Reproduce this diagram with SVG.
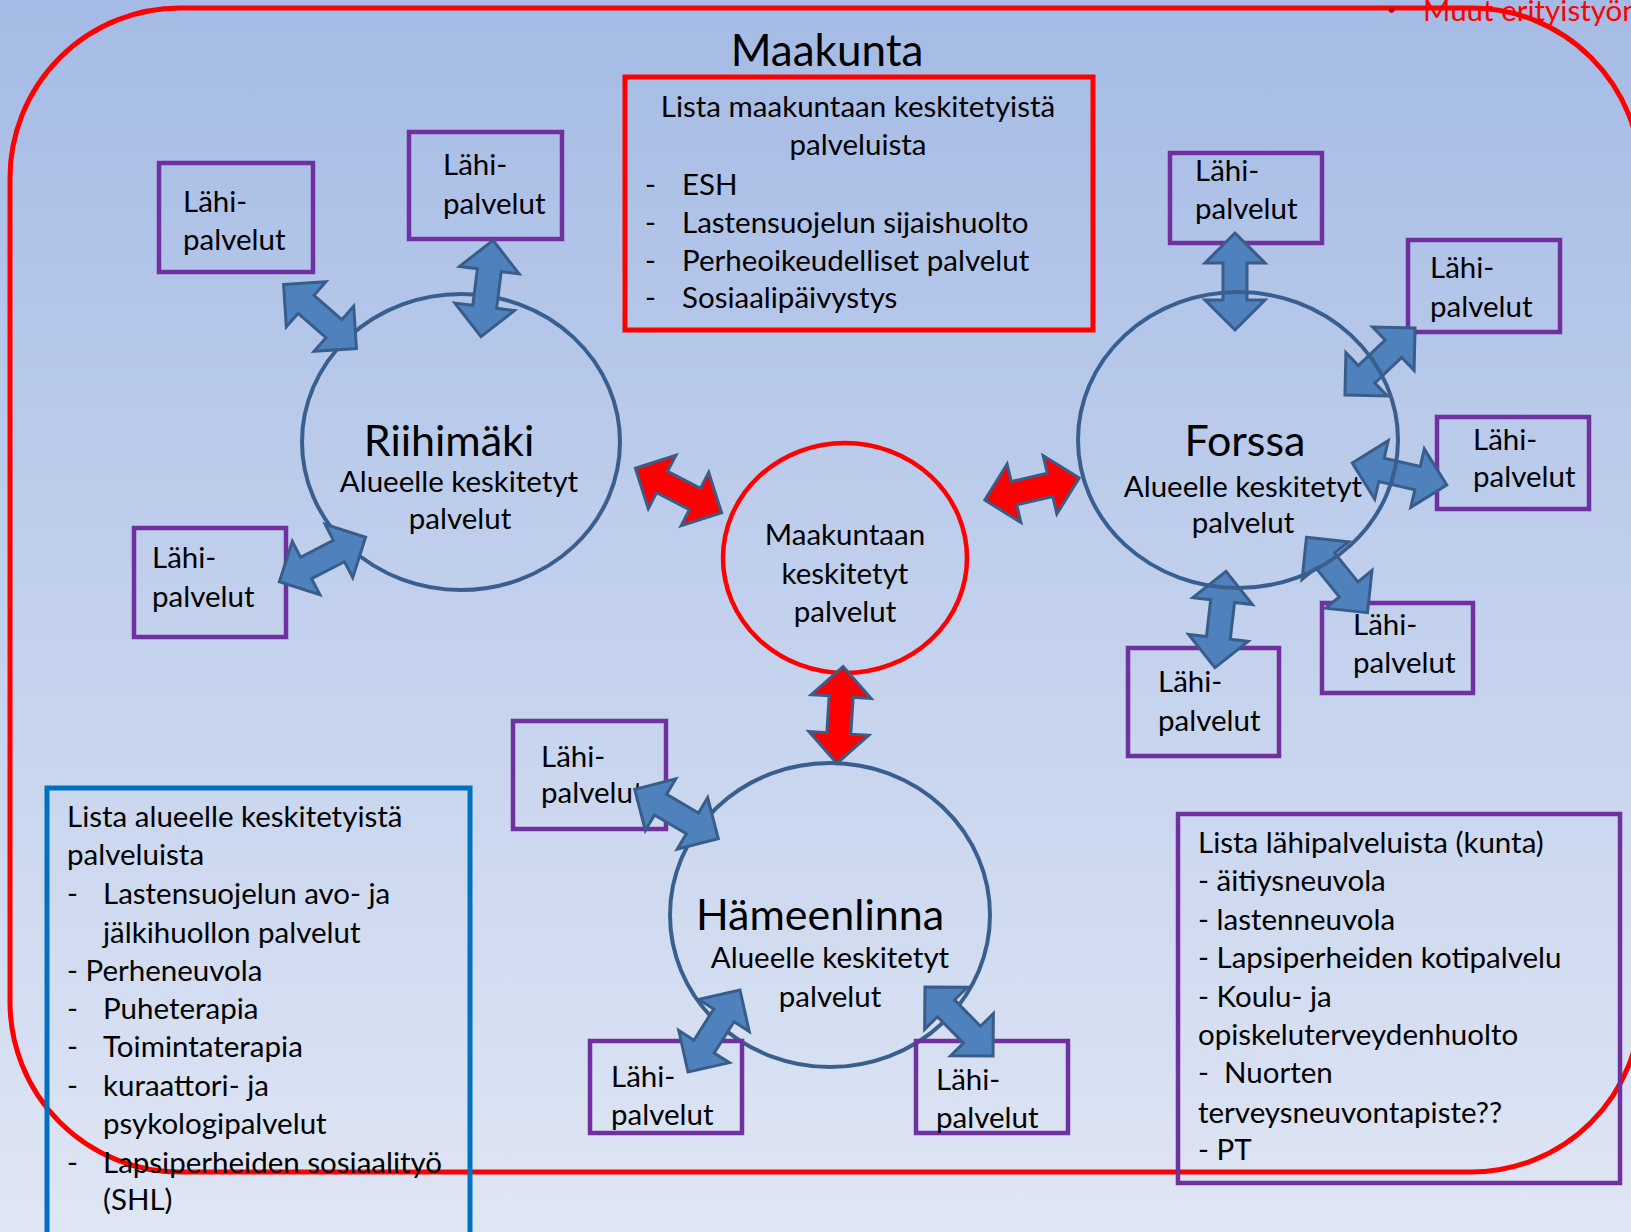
<svg xmlns="http://www.w3.org/2000/svg" width="1631" height="1232" viewBox="0 0 1631 1232">
<defs>
<linearGradient id="bg" x1="0" y1="0" x2="0" y2="1">
<stop offset="0" stop-color="#A5BBE5"/>
<stop offset="1" stop-color="#DFE6F4"/>
</linearGradient>
<path id="dbl" d="M-48.5,0 L-18.5,-30 L-18.5,-12 L18.5,-12 L18.5,-30 L48.5,0 L18.5,30 L18.5,12 L-18.5,12 L-18.5,30 Z"/>
<style>
text{font-family:Lato,"Liberation Sans",sans-serif;fill:#000;font-size:29.5px}
.lahi{fill:none;stroke:#7030A0;stroke-width:4.5}
.circ{fill:none;stroke:#3A5F8F;stroke-width:4}
.title{font-size:43px}
.mid{text-anchor:middle}
.ab{fill:#4F81BD;stroke:#385D8A;stroke-width:3;stroke-linejoin:miter}
.ar{fill:#FF0000;stroke:#385D8A;stroke-width:3;stroke-linejoin:miter}
</style>
</defs>
<rect width="1631" height="1232" fill="url(#bg)"/>
<g id="frame">
<rect x="10" y="8" width="1631" height="1164" rx="170" ry="170" fill="none" stroke="#FF0000" stroke-width="5"/>
<text x="1387" y="15" style="fill:#C00000;font-size:16px">•</text>
<text x="1423" y="21" style="fill:#FF0000">Muut erityistyön</text>
</g>
<g id="title"><text x="827" y="66" class="mid" style="font-size:44px">Maakunta</text></g>

<g id="maakunta-list">
<rect x="625" y="77" width="468" height="253" fill="none" stroke="#FF0000" stroke-width="5"/>
<text x="858" y="117" class="mid">Lista maakuntaan keskitetyistä</text>
<text x="858" y="155" class="mid">palveluista</text>
<text x="645" y="195">-</text><text x="682" y="195">ESH</text>
<text x="645" y="233">-</text><text x="682" y="233">Lastensuojelun sijaishuolto</text>
<text x="645" y="271">-</text><text x="682" y="271">Perheoikeudelliset palvelut</text>
<text x="645" y="308">-</text><text x="682" y="308">Sosiaalipäivystys</text>
</g>

<g id="riihimaki">
<ellipse cx="461" cy="442" rx="159" ry="148" class="circ"/>
<text x="449" y="456" class="mid title">Riihimäki</text>
<text x="459" y="492" class="mid">Alueelle keskitetyt</text>
<text x="460" y="529" class="mid">palvelut</text>
</g>
<g id="maakuntaan">
<ellipse cx="845" cy="558" rx="122" ry="115" fill="none" stroke="#FF0000" stroke-width="4.5"/>
<text x="845" y="545" class="mid">Maakuntaan</text>
<text x="845" y="584" class="mid">keskitetyt</text>
<text x="845" y="622" class="mid">palvelut</text>
</g>
<g id="hameenlinna">
<ellipse cx="830" cy="915" rx="160" ry="152" class="circ"/>
<text x="820" y="930" class="mid title">Hämeenlinna</text>
<text x="830" y="968" class="mid">Alueelle keskitetyt</text>
<text x="830" y="1007" class="mid">palvelut</text>
</g>

<g id="lahi-a"><rect x="159" y="163" width="154" height="109" class="lahi"/><text x="183" y="212">Lähi-</text><text x="183" y="250">palvelut</text></g>
<g id="lahi-b"><rect x="409" y="132" width="153" height="107" class="lahi"/><text x="443" y="175">Lähi-</text><text x="443" y="214">palvelut</text></g>
<g id="lahi-c"><rect x="134" y="528" width="152" height="109" class="lahi"/><text x="152" y="568">Lähi-</text><text x="152" y="607">palvelut</text></g>
<g id="lahi-d"><rect x="1170" y="153" width="152" height="90" class="lahi"/><text x="1195" y="181">Lähi-</text><text x="1195" y="219">palvelut</text></g>
<g id="lahi-e"><rect x="1408" y="240" width="152" height="92" class="lahi"/><text x="1430" y="278">Lähi-</text><text x="1430" y="317">palvelut</text></g>
<g id="lahi-f"><rect x="1437" y="417" width="152" height="92" class="lahi"/><text x="1473" y="450">Lähi-</text><text x="1473" y="487">palvelut</text></g>
<g id="lahi-g"><rect x="1322" y="603" width="151" height="90" class="lahi"/><text x="1353" y="635">Lähi-</text><text x="1353" y="673">palvelut</text></g>
<g id="lahi-h"><rect x="1128" y="648" width="151" height="108" class="lahi"/><text x="1158" y="692">Lähi-</text><text x="1158" y="731">palvelut</text></g>
<g id="lahi-i"><rect x="513" y="721" width="153" height="108" class="lahi"/><text x="541" y="767">Lähi-</text><text x="541" y="803">palvelut</text></g>
<g id="lahi-j"><rect x="590" y="1041" width="152" height="92" class="lahi"/><text x="611" y="1087">Lähi-</text><text x="611" y="1125">palvelut</text></g>
<g id="lahi-k"><rect x="916" y="1041" width="152" height="92" class="lahi"/><text x="936" y="1090">Lähi-</text><text x="936" y="1128">palvelut</text></g>

<g id="connectors">
<use href="#dbl" class="ab" transform="translate(487,288.5) rotate(-82.8)"/>
<use href="#dbl" class="ab" transform="translate(320,316.5) rotate(41.3)"/>
<use href="#dbl" class="ab" transform="translate(322.5,559.5) rotate(-27.35)"/>
<use href="#dbl" class="ar" transform="translate(678.5,490.5) rotate(27.35)"/>
<use href="#dbl" class="ar" transform="translate(1032,489) rotate(-13.2)"/>
<use href="#dbl" class="ar" transform="translate(840,715) rotate(93.65)"/>
<use href="#dbl" class="ab" transform="translate(1235,281.5) rotate(90)"/>
<use href="#dbl" class="ab" transform="translate(1380,361.5) rotate(-43.7)"/>
<use href="#dbl" class="ab" transform="translate(1399.5,474) rotate(13)"/>
<use href="#dbl" class="ab" transform="translate(1337,575) rotate(51)"/>
<use href="#dbl" class="ab" transform="translate(1220.5,619.5) rotate(96.6)"/>
<use href="#dbl" class="ab" transform="translate(676.5,814) rotate(30.5)"/>
<use href="#dbl" class="ab" transform="translate(714,1031) rotate(-57.6)"/>
<use href="#dbl" class="ab" transform="translate(959,1021.5) rotate(45.4)"/>
</g>

<g id="forssa">
<ellipse cx="1238" cy="440" rx="160" ry="148" class="circ"/>
<text x="1245" y="456" class="mid title">Forssa</text>
<text x="1243" y="497" class="mid">Alueelle keskitetyt</text>
<text x="1243" y="533" class="mid">palvelut</text>
</g>

<g id="alue-list">
<rect x="47" y="788" width="423" height="470" fill="none" stroke="#0070C0" stroke-width="5"/>
<text x="67" y="827">Lista alueelle keskitetyistä</text>
<text x="67" y="865">palveluista</text>
<text x="67" y="904">-</text><text x="103" y="904">Lastensuojelun avo- ja</text>
<text x="103" y="943">jälkihuollon palvelut</text>
<text x="67" y="981">- Perheneuvola</text>
<text x="67" y="1019">-</text><text x="103" y="1019">Puheterapia</text>
<text x="67" y="1057">-</text><text x="103" y="1057">Toimintaterapia</text>
<text x="67" y="1096">-</text><text x="103" y="1096">kuraattori- ja</text>
<text x="103" y="1134">psykologipalvelut</text>
<text x="67" y="1173">-</text><text x="103" y="1173">Lapsiperheiden sosiaalityö</text>
<text x="103" y="1210">(SHL)</text>
</g>

<g id="lahi-list">
<rect x="1178" y="814" width="442" height="369" fill="none" stroke="#7030A0" stroke-width="4.5"/>
<text x="1198" y="853">Lista lähipalveluista (kunta)</text>
<text x="1198" y="891">- äitiysneuvola</text>
<text x="1198" y="930">- lastenneuvola</text>
<text x="1198" y="968">- Lapsiperheiden kotipalvelu</text>
<text x="1198" y="1007">- Koulu- ja</text>
<text x="1198" y="1045">opiskeluterveydenhuolto</text>
<text x="1198" y="1083" xml:space="preserve">-  Nuorten</text>
<text x="1198" y="1123">terveysneuvontapiste??</text>
<text x="1198" y="1160">- PT</text>
</g>
</svg>
